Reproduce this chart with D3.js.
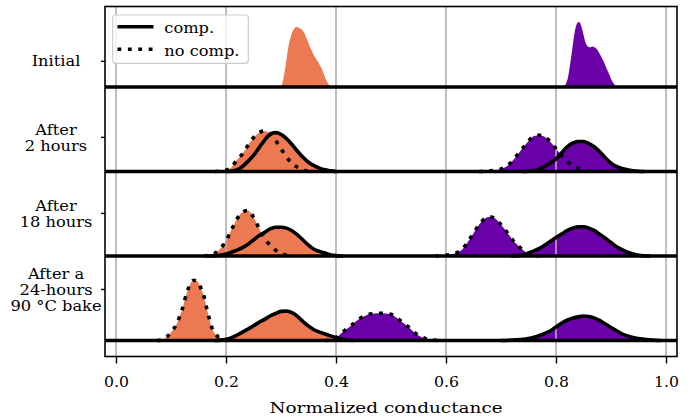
<!DOCTYPE html>
<html><head><meta charset="utf-8">
<script src="https://cdn.jsdelivr.net/npm/d3@7"></script>
<style>html,body{margin:0;padding:0;background:#fff;} svg{display:block;}</style>
</head><body><svg id="chart" width="699" height="420"></svg>
<script>
// ---------------- DATA ----------------
const rowLabels = ["Initial", "After\n2 hours", "After\n18 hours", "After a\n24-hours\n90 °C bake"];
const rowTickPos = [3.31, 2.41, 1.51, 0.61];     // y positions of the row ticks
const rowBase = [3, 2, 1, 0];                     // baseline of each row
const xTicks = [0.0, 0.2, 0.4, 0.6, 0.8, 1.0];
const xTitle = "Normalized conductance";
const legendLabels = ["comp.", "no comp."];

// density curves: [conductance, height]
const initOrange = [[0.298,0],[0.303,0.06],[0.308,0.24],[0.313,0.46],[0.318,0.60],[0.323,0.68],[0.328,0.71],[0.333,0.70],[0.338,0.68],[0.343,0.63],[0.348,0.55],[0.353,0.47],[0.358,0.40],[0.363,0.34],[0.368,0.29],[0.373,0.23],[0.378,0.15],[0.383,0.07],[0.388,0.02],[0.392,0]];
const initPurple = [[0.812,0],[0.818,0.04],[0.822,0.12],[0.826,0.28],[0.830,0.47],[0.834,0.65],[0.838,0.75],[0.842,0.77],[0.846,0.72],[0.850,0.62],[0.854,0.52],[0.858,0.48],[0.862,0.47],[0.866,0.48],[0.870,0.47],[0.874,0.45],[0.878,0.41],[0.882,0.36],[0.886,0.31],[0.890,0.25],[0.894,0.19],[0.898,0.13],[0.902,0.07],[0.906,0.03],[0.910,0]];

const h2OrangeComp = [[0.20,0],[0.21,0.005],[0.22,0.02],[0.23,0.06],[0.24,0.12],[0.25,0.19],[0.26,0.28],[0.27,0.37],[0.28,0.44],[0.29,0.46],[0.30,0.44],[0.31,0.39],[0.32,0.32],[0.33,0.24],[0.34,0.17],[0.35,0.11],[0.36,0.07],[0.37,0.04],[0.38,0.02],[0.39,0.01],[0.40,0]];
const h2OrangeNo = [[0.18,0],[0.19,0.005],[0.20,0.015],[0.21,0.05],[0.22,0.14],[0.23,0.21],[0.24,0.31],[0.25,0.40],[0.26,0.46],[0.27,0.48],[0.28,0.45],[0.29,0.37],[0.30,0.27],[0.31,0.17],[0.32,0.10],[0.33,0.05],[0.34,0.02],[0.35,0.005],[0.36,0]];
const h2PurpleComp = [[0.74,0],[0.75,0.003],[0.76,0.01],[0.77,0.03],[0.78,0.06],[0.79,0.10],[0.80,0.15],[0.81,0.22],[0.82,0.29],[0.83,0.335],[0.84,0.355],[0.85,0.355],[0.86,0.33],[0.87,0.29],[0.88,0.23],[0.89,0.16],[0.90,0.10],[0.91,0.06],[0.92,0.035],[0.93,0.02],[0.94,0.01],[0.95,0.003],[0.96,0]];
const h2PurpleNo = [[0.66,0],[0.67,0.003],[0.68,0.008],[0.69,0.015],[0.70,0.03],[0.71,0.06],[0.72,0.12],[0.73,0.20],[0.74,0.28],[0.75,0.36],[0.76,0.42],[0.77,0.43],[0.78,0.41],[0.79,0.35],[0.80,0.27],[0.81,0.19],[0.82,0.12],[0.83,0.07],[0.84,0.035],[0.85,0.015],[0.86,0.005],[0.87,0]];

const h18OrangeComp = [[0.17,0],[0.18,0.005],[0.19,0.01],[0.20,0.025],[0.21,0.045],[0.22,0.07],[0.23,0.10],[0.24,0.14],[0.25,0.19],[0.26,0.24],[0.27,0.28],[0.28,0.32],[0.29,0.34],[0.30,0.34],[0.31,0.33],[0.32,0.30],[0.33,0.25],[0.34,0.19],[0.35,0.13],[0.36,0.08],[0.37,0.055],[0.38,0.035],[0.39,0.015],[0.40,0.005],[0.41,0]];
const h18OrangeNo = [[0.16,0],[0.17,0.01],[0.18,0.035],[0.19,0.09],[0.20,0.18],[0.21,0.31],[0.22,0.44],[0.23,0.52],[0.24,0.54],[0.25,0.46],[0.26,0.33],[0.27,0.21],[0.28,0.13],[0.29,0.07],[0.30,0.03],[0.31,0.01],[0.32,0]];
const h18PurpleComp = [[0.72,0],[0.73,0.005],[0.74,0.015],[0.75,0.035],[0.76,0.06],[0.77,0.09],[0.78,0.13],[0.79,0.175],[0.80,0.22],[0.81,0.26],[0.82,0.30],[0.83,0.33],[0.84,0.345],[0.85,0.347],[0.86,0.33],[0.87,0.30],[0.88,0.255],[0.89,0.21],[0.90,0.16],[0.91,0.11],[0.92,0.075],[0.93,0.045],[0.94,0.025],[0.95,0.01],[0.96,0.003],[0.97,0]];
const h18PurpleNo = [[0.58,0],[0.59,0.003],[0.60,0.01],[0.61,0.02],[0.62,0.04],[0.63,0.08],[0.64,0.17],[0.65,0.27],[0.66,0.37],[0.67,0.44],[0.68,0.465],[0.69,0.44],[0.70,0.37],[0.71,0.29],[0.72,0.20],[0.73,0.13],[0.74,0.07],[0.75,0.03],[0.76,0.01],[0.77,0]];

const bakeOrangeComp = [[0.18,0],[0.19,0.005],[0.20,0.015],[0.21,0.035],[0.22,0.065],[0.23,0.10],[0.24,0.135],[0.25,0.175],[0.26,0.215],[0.27,0.25],[0.28,0.29],[0.29,0.32],[0.30,0.345],[0.31,0.35],[0.32,0.33],[0.33,0.285],[0.34,0.225],[0.35,0.17],[0.36,0.128],[0.37,0.10],[0.38,0.078],[0.39,0.055],[0.40,0.035],[0.41,0.018],[0.42,0.006],[0.43,0]];
const bakeOrangeNo = [[0.075,0],[0.085,0.01],[0.095,0.06],[0.105,0.14],[0.110,0.19],[0.115,0.27],[0.120,0.36],[0.125,0.48],[0.130,0.59],[0.135,0.67],[0.140,0.71],[0.145,0.71],[0.150,0.68],[0.155,0.61],[0.160,0.52],[0.165,0.38],[0.170,0.25],[0.175,0.14],[0.180,0.08],[0.185,0.05],[0.190,0.03],[0.195,0.015],[0.200,0.005],[0.205,0]];
const bakePurpleComp = [[0.70,0],[0.72,0.005],[0.73,0.01],[0.74,0.015],[0.75,0.025],[0.76,0.04],[0.77,0.06],[0.78,0.085],[0.79,0.115],[0.80,0.16],[0.81,0.205],[0.82,0.24],[0.83,0.265],[0.84,0.28],[0.85,0.29],[0.86,0.285],[0.87,0.265],[0.88,0.235],[0.89,0.195],[0.90,0.155],[0.91,0.115],[0.92,0.08],[0.93,0.055],[0.94,0.035],[0.95,0.025],[0.96,0.015],[0.97,0.008],[0.98,0.003],[0.99,0]];
const bakePurpleNo = [[0.38,0],[0.39,0.005],[0.40,0.03],[0.41,0.09],[0.42,0.14],[0.43,0.19],[0.44,0.245],[0.45,0.285],[0.46,0.31],[0.47,0.32],[0.48,0.322],[0.49,0.32],[0.50,0.31],[0.51,0.27],[0.52,0.22],[0.53,0.17],[0.54,0.11],[0.55,0.06],[0.56,0.03],[0.57,0.012],[0.58,0.004],[0.59,0]];

// ---------------- BUILD ----------------
const ORANGE = "#ED7953", PURPLE = "#6A00A8";
const FONT = "DejaVu Serif";
const SX = 1.16;

// row index, colour, line style ("none" | "solid" | "dotted")
const series = [
  {row:0, data:initOrange, color:ORANGE, style:"none"},
  {row:0, data:initPurple, color:PURPLE, style:"none"},
  {row:1, data:h2OrangeNo, color:ORANGE, style:"dotted"},
  {row:1, data:h2OrangeComp, color:ORANGE, style:"solid"},
  {row:1, data:h2PurpleNo, color:PURPLE, style:"dotted"},
  {row:1, data:h2PurpleComp, color:PURPLE, style:"solid"},
  {row:2, data:h18OrangeNo, color:ORANGE, style:"dotted"},
  {row:2, data:h18OrangeComp, color:ORANGE, style:"solid"},
  {row:2, data:h18PurpleNo, color:PURPLE, style:"dotted"},
  {row:2, data:h18PurpleComp, color:PURPLE, style:"solid"},
  {row:3, data:bakeOrangeNo, color:ORANGE, style:"dotted"},
  {row:3, data:bakeOrangeComp, color:ORANGE, style:"solid"},
  {row:3, data:bakePurpleNo, color:PURPLE, style:"dotted"},
  {row:3, data:bakePurpleComp, color:PURPLE, style:"solid"}
];

const L = 105, R = 677, T = 6.5, B = 356.5;
const svg = d3.select("#chart");
const x = d3.scaleLinear().domain([-0.02, 1.02]).range([L, R]);
const y = d3.scaleLinear().domain([-0.189, 3.953]).range([B, T]);

svg.append("defs").append("clipPath").attr("id","clip")
  .append("rect").attr("x",L).attr("y",T).attr("width",R-L).attr("height",B-T);
const plot = svg.append("g").attr("clip-path","url(#clip)");

// fills
const area = b => d3.area().x(d => x(d[0])).y0(y(b)).y1(d => y(b + d[1])).curve(d3.curveMonotoneX);
plot.append("g").selectAll("path").data(series).join("path")
  .attr("d", s => area(rowBase[s.row])(s.data))
  .attr("fill", s => s.color).attr("stroke","none");

// grid
plot.append("g").selectAll("line").data(xTicks).join("line")
  .attr("x1", d => x(d)).attr("x2", d => x(d)).attr("y1", T).attr("y2", B)
  .attr("stroke", "#b0b0b0").attr("stroke-width", 1.6);

// outlines
const line = b => d3.line().x(d => x(d[0])).y(d => y(b + d[1])).curve(d3.curveMonotoneX);
plot.append("g").selectAll("path").data(series.filter(s => s.style !== "none")).join("path")
  .attr("d", s => line(rowBase[s.row])(s.data))
  .attr("fill","none").attr("stroke","#000").attr("stroke-width",3.6)
  .attr("stroke-linejoin","round")
  .attr("stroke-dasharray", s => s.style === "dotted" ? "3.8,6.6" : null)
  .attr("stroke-linecap", s => s.style === "dotted" ? "butt" : "round");

// baselines
plot.append("g").selectAll("line").data(rowBase).join("line")
  .attr("x1", L).attr("x2", R).attr("y1", d => y(d)).attr("y2", d => y(d))
  .attr("stroke","#000").attr("stroke-width",3.4);

// spines
svg.append("rect").attr("x",L).attr("y",T).attr("width",R-L).attr("height",B-T)
  .attr("fill","none").attr("stroke","#000").attr("stroke-width",1.6);

function txt(g, tx, ty, str, size, anchor, sx) {
  return g.append("text").attr("transform", `translate(${tx},${ty}) scale(${sx},1)`)
    .attr("text-anchor", anchor).style("font-family", FONT).style("font-size", size + "px")
    .attr("fill","#000").text(str);
}

// x axis
const xAxis = svg.append("g").attr("transform", `translate(0,${B})`)
  .call(d3.axisBottom(x).tickValues(xTicks).tickSize(7).tickPadding(12).tickFormat(d3.format(".1f")));
xAxis.select(".domain").remove();
xAxis.selectAll(".tick line").attr("stroke","#000").attr("stroke-width",1.4);
xAxis.selectAll(".tick text").attr("transform", `scale(1.12,1)`)
  .style("font-family", FONT).style("font-size","14px").attr("fill","#000")
  .attr("y", 30.5).attr("dy", null);

txt(svg, 386, 413, xTitle, 15.5, "middle", 1.19);

// y axis ticks + labels
const yAxis = svg.append("g").attr("transform", `translate(${L},0)`)
  .call(d3.axisLeft(y).tickValues(rowTickPos).tickSize(4).tickFormat(""));
yAxis.select(".domain").remove();
yAxis.selectAll(".tick line").attr("stroke","#000").attr("stroke-width",1.4);

rowLabels.forEach((lab, i) => {
  const lines = lab.split("\n");
  const n = lines.length;
  const ty = y(rowTickPos[i]);
  lines.forEach((ln, j) => {
    const by = ty + 5 + (j - (n - 1) / 2) * 16.3 + (n > 1 ? 1 : 0);
    txt(svg, 56, by, ln, 14, "middle", SX);
  });
});

// legend
const lg = svg.append("g");
lg.append("rect").attr("x",112.7).attr("y",15).attr("width",135.6).attr("height",48.3).attr("rx",3)
  .attr("fill","#fff").attr("fill-opacity",0.8).attr("stroke","#cccccc").attr("stroke-width",1.2);
const legY = [26.7, 49.3];
["solid","dotted"].forEach((st, i) => {
  lg.append("line").attr("x1",117.5).attr("x2",153.5).attr("y1",legY[i]).attr("y2",legY[i])
    .attr("stroke","#000").attr("stroke-width",3.6)
    .attr("stroke-dasharray", st === "dotted" ? "3.8,6.6" : null);
  txt(lg, 164.3, legY[i] + 6.6, legendLabels[i], 14, "start", SX);
});
</script></body></html>
